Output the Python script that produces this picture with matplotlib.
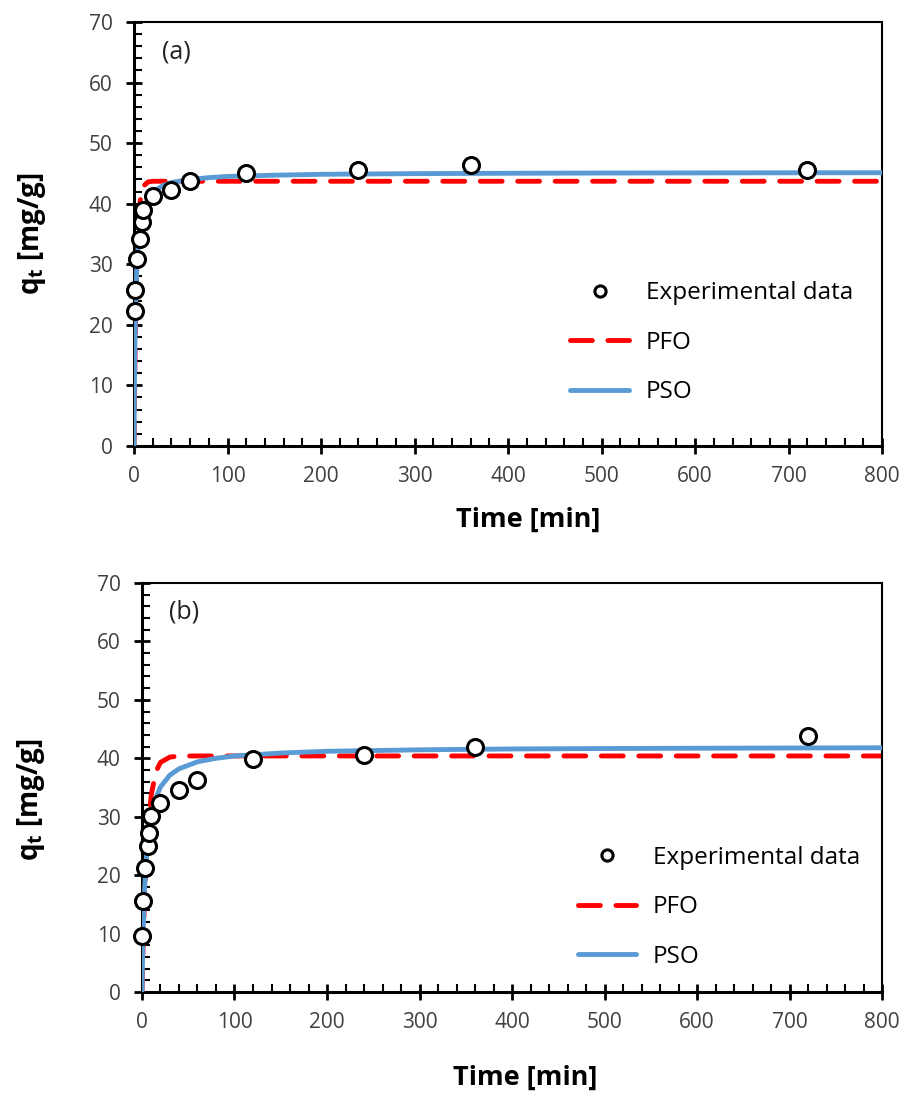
import numpy as np
import matplotlib.pyplot as plt
from matplotlib.ticker import MultipleLocator

plt.rcParams['font.family'] = ['Open Sans', 'DejaVu Sans']
plt.rcParams['mathtext.fontset'] = 'custom'
plt.rcParams['mathtext.rm'] = 'Open Sans'
plt.rcParams['mathtext.bf'] = 'Open Sans:bold'

# experimental data, time in min, qt in mg/g
t_exp = [0.5, 1.5, 3.5, 6, 8, 10, 20, 40, 60, 120, 240, 360, 720]
q_exp_a = [22.3, 25.8, 30.8, 34.2, 37.0, 38.9, 41.3, 42.2, 43.8, 45.0, 45.6, 46.4, 45.5]
q_exp_b = [9.6, 15.5, 21.2, 25.0, 27.2, 30.1, 32.3, 34.6, 36.2, 39.8, 40.5, 41.9, 43.8]

# model curves
t_fit = [0, 0.25, 0.5, 1, 2, 3, 5, 7, 10, 15, 20, 30, 40, 60, 80, 100, 150, 200,
         300, 400, 500, 600, 700, 800]
pfo_a = [0, 4.0, 7.7, 14.4, 24.1, 30.8, 37.8, 41.0, 42.9, 43.6, 43.7, 43.7, 43.7, 43.7,
         43.7, 43.7, 43.7, 43.7, 43.7, 43.7, 43.7, 43.7, 43.7, 43.7]
pso_a = [0, 6.2, 10.8, 17.5, 25.2, 29.6, 34.3, 36.8, 39.0, 40.9, 41.9, 42.9, 43.5, 44.0,
         44.3, 44.5, 44.7, 44.85, 44.96, 45.02, 45.06, 45.08, 45.1, 45.11]
pfo_b = [0, 1.8, 3.5, 6.6, 12.2, 17.0, 24.0, 29.0, 33.7, 37.7, 39.3, 40.2, 40.4, 40.4,
         40.4, 40.4, 40.4, 40.4, 40.4, 40.4, 40.4, 40.4, 40.4, 40.4]
pso_b = [0, 2.5, 4.7, 8.5, 14.1, 18.1, 23.5, 26.8, 30.1, 33.2, 35.1, 37.1, 38.2, 39.4,
         40.0, 40.4, 40.9, 41.2, 41.45, 41.6, 41.67, 41.72, 41.76, 41.8]

fig = plt.figure(figsize=(9.02, 10.93), dpi=100)
ax_a = fig.add_axes([0.1486, 0.592, 0.8294, 0.3879])
ax_b = fig.add_axes([0.1574, 0.0924, 0.8206, 0.3742])

panels = [
    (ax_a, q_exp_a, pfo_a, pso_a, '(a)', (0.567, 0.417), (0.527, -0.143), (-0.115, 0.5)),
    (ax_b, q_exp_b, pfo_b, pso_b, '(b)', (0.572, 0.387), (0.518, -0.178), (-0.128, 0.47)),
]

for ax, q_exp, pfo, pso, tag, leg_pos, xl_pos, yl_pos in panels:
    ax.plot(t_fit, pfo, color='#FF0000', lw=3.5, dashes=(4.5, 3.2),
            dash_capstyle='round', label='PFO', zorder=2)
    ax.plot(t_fit, pso, color='#5B9BD5', lw=3.5, solid_capstyle='round',
            label='PSO', zorder=3)
    ax.plot(t_exp, q_exp, 'o', ms=11.5, mfc='white', mec='black', mew=2.2,
            label='Experimental data', zorder=4, clip_on=False)

    ax.set_xlim(0, 800)
    ax.set_ylim(0, 70)
    ax.xaxis.set_major_locator(MultipleLocator(100))
    ax.xaxis.set_minor_locator(MultipleLocator(20))
    ax.yaxis.set_major_locator(MultipleLocator(10))
    ax.yaxis.set_minor_locator(MultipleLocator(2))
    ax.tick_params(which='major', direction='inout', length=11, width=2,
                   labelsize=15, colors='black', labelcolor='#404040')
    ax.tick_params(axis='y', which='major', pad=10)
    ax.tick_params(axis='x', which='major', pad=9)
    ax.tick_params(which='minor', direction='in', length=6, width=1.5)
    for s in ['left', 'bottom']:
        ax.spines[s].set_linewidth(2.2)
    for s in ['top', 'right']:
        ax.spines[s].set_linewidth(1.5)

    ax.text(0.037, 0.93, tag, transform=ax.transAxes, fontsize=18,
            va='center', ha='left', color='#222222')

    ax.set_xlabel('Time [min]', fontsize=19.5, fontweight='bold', va='top')
    ax.xaxis.set_label_coords(*xl_pos)
    ax.set_ylabel(r'$\mathbf{q_t}$ [mg/g]', fontsize=20, fontweight='bold')
    ax.yaxis.set_label_coords(*yl_pos)

    h, l = ax.get_legend_handles_labels()
    order = [2, 0, 1]
    ax.legend([h[i] for i in order], [l[i] for i in order], loc='upper left',
              bbox_to_anchor=leg_pos, frameon=False, fontsize=17.5,
              handlelength=2.4, handletextpad=0.7, labelspacing=1.05,
              borderpad=0, markerscale=0.7)

fig.savefig('out.png', dpi=100)
